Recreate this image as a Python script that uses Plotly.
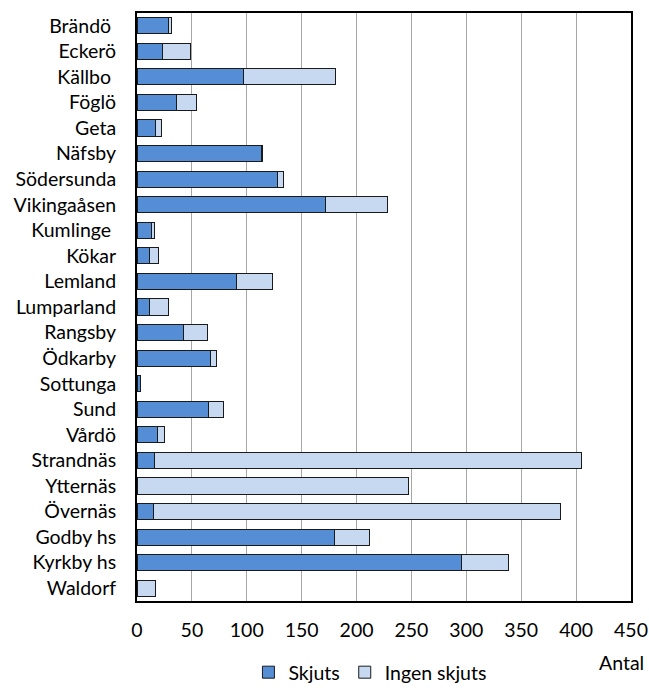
import plotly.graph_objects as go

categories = ["Brändö ", "Eckerö", "Källbo ", "Föglö", "Geta", "Näfsby", "Södersunda",
              "Vikingaåsen", "Kumlinge ", "Kökar", "Lemland", "Lumparland", "Rangsby",
              "Ödkarby", "Sottunga", "Sund", "Vårdö", "Strandnäs", "Ytternäs", "Övernäs",
              "Godby hs", "Kyrkby hs", "Waldorf"]
skjuts = [29, 23, 97, 36, 17, 113, 128, 172, 13, 11, 91, 11, 42, 67, 3, 65, 19, 16, 0, 15, 180, 296, 0]
ingen_skjuts = [2, 26, 84, 18, 5, 1, 5, 56, 3, 9, 32, 18, 22, 5, 0, 14, 6, 389, 247, 371, 32, 42, 17]
x_ticks = [0, 50, 100, 150, 200, 250, 300, 350, 400, 450]

FONT = "Lato"
FS = 19.5
fig = go.Figure()
fig.add_trace(go.Bar(y=categories, x=skjuts, orientation="h", name="Skjuts",
                     marker=dict(color="#558ED5", line=dict(color="#1a1a1a", width=1))))
fig.add_trace(go.Bar(y=categories, x=ingen_skjuts, orientation="h", name="Ingen skjuts",
                     marker=dict(color="#C6D9F1", line=dict(color="#1a1a1a", width=1))))

fig.update_layout(
    barmode="stack",
    bargap=0.37,
    width=649, height=692,
    margin=dict(l=137, r=18, t=13, b=91),
    plot_bgcolor="white", paper_bgcolor="white",
    font=dict(family=FONT, size=FS, color="#000000"),
    showlegend=True,
    legend=dict(orientation="h", x=0.57, xanchor="center", xref="container",
                y=0.0, yanchor="bottom", yref="container",
                traceorder="normal", font=dict(size=FS), itemwidth=30,
                bgcolor="rgba(0,0,0,0)"),
    xaxis=dict(range=[0, 450], tickvals=x_ticks, showgrid=True, gridcolor="#A6A6A6",
               gridwidth=1, zeroline=False, showline=True, linecolor="black", linewidth=2,
               mirror=True, ticks="", ticklabelstandoff=11, tickfont=dict(size=FS),
               automargin=False),
    yaxis=dict(autorange="reversed", showgrid=False, showline=True, linecolor="black",
               linewidth=2, mirror=True, ticks="", ticklabelstandoff=15,
               tickfont=dict(size=FS), automargin=False),
    annotations=[dict(text="Antal", x=1.03, xref="paper", xanchor="right",
                      y=-(662 - 601) / (601 - 13), yref="paper", yanchor="middle",
                      showarrow=False, font=dict(size=FS))],
)

fig.write_html("out.html", config={"displayModeBar": False},
               post_script="document.body.style.margin='0px';document.body.style.overflow='hidden';")
